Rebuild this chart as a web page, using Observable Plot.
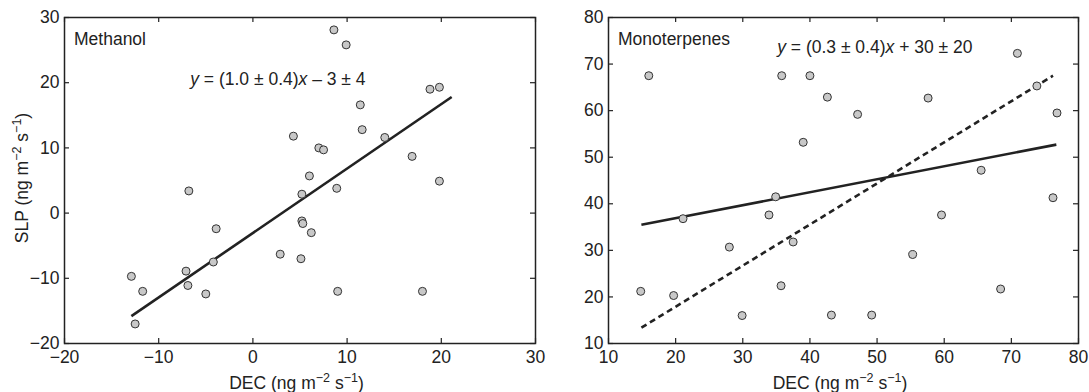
<!DOCTYPE html>
<html><head><meta charset="utf-8">
<script src="https://cdn.jsdelivr.net/npm/d3@7"></script>
<script src="https://cdn.jsdelivr.net/npm/@observablehq/plot@0.6"></script>
<style>
body{margin:0;background:#fff;}
#wrap{position:relative;width:1089px;height:392px;background:#fff;}
#wrap svg{position:absolute;top:0;}
</style></head><body><div id="wrap"></div>
<script>
// ---- Data ----
const methanolDEC = [-6.8, 8.6, 9.9, 18.8, 19.8, 11.4, 4.3, 11.6, 7.0, 7.5, 14.0, 16.9, 6.0, 19.8, 8.9, 5.2, 5.2, 5.3, 6.2, 2.9, 5.1, 9.0, 18.0, -12.9, -11.7, -12.5, -7.1, -6.9, -5.0, -4.2, -3.9];
const methanolSLP = [3.4, 28.1, 25.8, 19.0, 19.3, 16.6, 11.8, 12.8, 10.0, 9.7, 11.6, 8.7, 5.7, 4.9, 3.8, 2.9, -1.2, -1.6, -3.0, -6.3, -7.0, -12.0, -12.0, -9.7, -12.0, -17.0, -8.9, -11.1, -12.4, -7.5, -2.4];
const methanolFitDEC = [-12.9, 21.1];
const methanolFitSLP = [-15.8, 17.8];

const monoDEC = [16.0, 35.8, 40.0, 39.0, 34.9, 42.6, 47.1, 57.6, 70.9, 73.8, 76.8, 65.5, 76.2, 21.1, 33.9, 28.0, 37.5, 14.8, 19.7, 35.7, 29.9, 59.6, 55.3, 68.4, 43.2, 49.2];
const monoSLP = [67.5, 67.5, 67.5, 53.2, 41.5, 62.9, 59.2, 62.7, 72.3, 65.3, 59.5, 47.2, 41.3, 36.8, 37.6, 30.7, 31.8, 21.2, 20.3, 22.4, 16.0, 37.6, 29.1, 21.7, 16.1, 16.1];
const monoFitDEC = [14.9, 76.7];
const monoFitSLP = [35.5, 52.7];
const monoOneDEC = [14.9, 76.2];
const monoOneSLP = [13.4, 67.5];

const methanolXTicks = [-20, -10, 0, 10, 20, 30];
const methanolYTicks = [-20, -10, 0, 10, 20, 30];
const monoXTicks = [10, 20, 30, 40, 50, 60, 70, 80];
const monoYTicks = [10, 20, 30, 40, 50, 60, 70, 80];

const panelTitles = ["Methanol", "Monoterpenes"];
const equations = [
  [["y", true], [" = (1.0 ± 0.4)", false], ["x", true], [" – 3 ± 4", false]],
  [["y", true], [" = (0.3 ± 0.4)", false], ["x", true], [" + 30 ± 20", false]]
];
const xLabel = [["DEC (ng m", 0], ["−2", 1], [" s", 0], ["−1", 1], [")", 0]];
const yLabel = [["SLP (ng m", 0], ["−2", 1], [" s", 0], ["−1", 1], [")", 0]];

// ---- Layout ----
const H = 392, MT = 17, MB = 49, TICK = 5;
const INK = "#222";
const FONT = "'Liberation Sans', Arial, sans-serif";
const FS = 17.5;

function toRows(xs, ys) { return xs.map((x, i) => ({x, y: ys[i]})); }

function supText(t, parts) {
  let prevSup = false;
  parts.forEach(([s, sup]) => {
    const ts = t.append("tspan").text(s);
    if (sup) ts.attr("font-size", 12.5).attr("dy", -7);
    else ts.attr("dy", prevSup ? 7 : 0);
    prevSup = !!sup;
  });
}

function panel({width, ml, mr, xDomain, yDomain, xTicks, yTicks, rows, lines, title, eq, eqPos, showY}) {
  const ph = H - MT - MB;
  const pw = width - ml - mr;
  const marks = [
    Plot.ruleX(xTicks, {x: d => d, insetTop: ph - TICK, stroke: INK, strokeWidth: 1.2}),
    Plot.ruleX(xTicks, {x: d => d, insetBottom: ph - TICK, stroke: INK, strokeWidth: 1.2}),
    Plot.ruleY(yTicks, {y: d => d, insetRight: pw - TICK, stroke: INK, strokeWidth: 1.2}),
    Plot.ruleY(yTicks, {y: d => d, insetLeft: pw - TICK, stroke: INK, strokeWidth: 1.2}),
    Plot.axisX(xTicks, {tickSize: 0, tickPadding: 7, label: null, fill: INK}),
    Plot.axisY(yTicks, {tickSize: 0, tickPadding: 5, label: null, fill: INK}),
    ...lines.map(l => Plot.line(l.rows, {x: "x", y: "y", stroke: INK, strokeWidth: 2.6, strokeDasharray: l.dash || null, strokeLinecap: "butt"})),
    Plot.dot(rows, {x: "x", y: "y", r: 4, fill: "#c8c8c8", stroke: "#333", strokeWidth: 1}),
    Plot.frame({stroke: INK, strokeWidth: 1.5})
  ];
  const svg = Plot.plot({
    width, height: H,
    marginLeft: ml, marginRight: mr, marginTop: MT, marginBottom: MB,
    x: {domain: xDomain},
    y: {domain: yDomain},
    style: {fontFamily: FONT, fontSize: FS + "px", color: INK, background: "#fff", overflow: "visible"},
    marks
  });
  const s = d3.select(svg);
  const X = svg.scale("x"), Y = svg.scale("y");
  // panel title
  s.append("text").attr("x", ml + 10).attr("y", 45).attr("fill", INK).attr("text-anchor", "start")
    .attr("font-family", FONT).attr("font-size", FS).text(title);
  // equation
  const et = s.append("text").attr("x", X.apply(eqPos[0])).attr("y", Y.apply(eqPos[1]))
    .attr("text-anchor", "start")
    .attr("fill", INK).attr("font-family", FONT).attr("font-size", FS);
  eq.forEach(([str, it]) => et.append("tspan").attr("font-style", it ? "italic" : "normal").text(str));
  // x label
  const xl = s.append("text").attr("x", ml + pw / 2 - 3).attr("y", 389).attr("text-anchor", "middle")
    .attr("fill", INK).attr("font-family", FONT).attr("font-size", FS);
  supText(xl, xLabel);
  if (showY) {
    const yl = s.append("text").attr("transform", `translate(28,${MT + ph / 2 - 2}) rotate(-90)`)
      .attr("text-anchor", "middle").attr("fill", INK).attr("font-family", FONT).attr("font-size", FS);
    supText(yl, yLabel);
  }
  return svg;
}

const wrap = document.getElementById("wrap");
const left = panel({
  width: 560, ml: 64, mr: 25,
  xDomain: [-20, 30], yDomain: [-20, 30],
  xTicks: methanolXTicks, yTicks: methanolYTicks,
  rows: toRows(methanolDEC, methanolSLP),
  lines: [{rows: toRows(methanolFitDEC, methanolFitSLP)}],
  title: panelTitles[0], eq: equations[0], eqPos: [-6.6, 19.6], showY: true
});
left.style.left = "0px";
wrap.appendChild(left);

const right = panel({
  width: 529, ml: 48, mr: 11,
  xDomain: [10, 80], yDomain: [10, 80],
  xTicks: monoXTicks, yTicks: monoYTicks,
  rows: toRows(monoDEC, monoSLP),
  lines: [
    {rows: toRows(monoFitDEC, monoFitSLP)},
    {rows: toRows(monoOneDEC, monoOneSLP), dash: "6,4"}
  ],
  title: panelTitles[1], eq: equations[1], eqPos: [35.2, 72.3], showY: false
});
right.style.left = "560px";
wrap.appendChild(right);
</script></body></html>
